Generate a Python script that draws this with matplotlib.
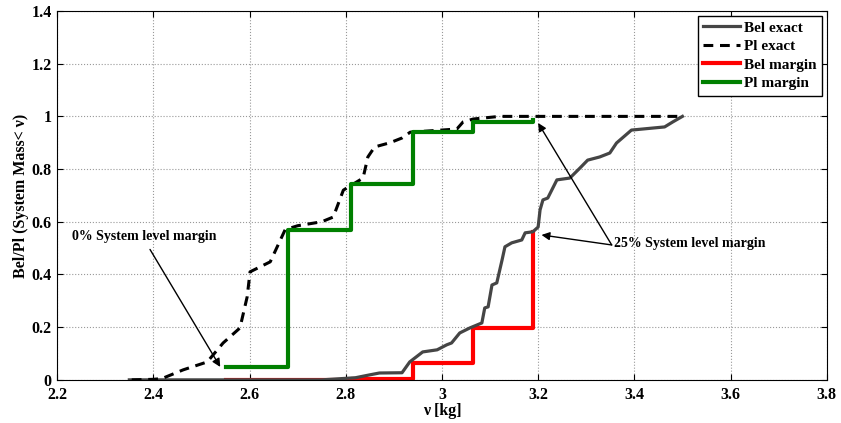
import matplotlib
matplotlib.use('Agg')
import matplotlib.pyplot as plt

# Bel exact (solid gray)
bel_x = [2.35, 2.75, 2.82, 2.85, 2.87, 2.917, 2.933, 2.96, 2.99, 3.01, 3.02, 3.037,
         3.058, 3.083, 3.089, 3.096, 3.104, 3.114, 3.125, 3.131, 3.145, 3.166, 3.173,
         3.189, 3.2, 3.204, 3.21, 3.22, 3.239, 3.266, 3.287, 3.303, 3.328, 3.349,
         3.363, 3.394, 3.463, 3.48, 3.5]
bel_y = [0.0, 0.0, 0.008, 0.019, 0.026, 0.027, 0.068, 0.106, 0.114, 0.133, 0.14, 0.178,
         0.197, 0.216, 0.273, 0.277, 0.36, 0.368, 0.455, 0.505, 0.52, 0.531, 0.558,
         0.562, 0.58, 0.645, 0.683, 0.69, 0.759, 0.766, 0.804, 0.834, 0.846, 0.861,
         0.899, 0.948, 0.96, 0.979, 1.0]

# Pl exact (dashed black)
pl_x = [2.355, 2.40, 2.418, 2.462, 2.512, 2.545, 2.58, 2.595, 2.601, 2.643, 2.674,
        2.70, 2.75, 2.774, 2.795, 2.836, 2.846, 2.86, 2.892, 2.917, 2.934, 3.031,
        3.044, 3.065, 3.12, 3.5]
pl_y = [0.0, 0.002, 0.005, 0.038, 0.068, 0.14, 0.197, 0.315, 0.41, 0.448, 0.57,
        0.585, 0.60, 0.618, 0.72, 0.766, 0.846, 0.884, 0.9, 0.918, 0.94, 0.952,
        0.979, 0.99, 1.0, 1.0]

# margin step curves
margin_x = [2.55, 2.68, 2.81, 2.94, 3.065, 3.19]
bel_margin = [0.0, 0.001, 0.005, 0.065, 0.195, 0.56]
pl_margin = [0.05, 0.57, 0.745, 0.94, 0.98, 0.985]

xticks = [2.2, 2.4, 2.6, 2.8, 3.0, 3.2, 3.4, 3.6, 3.8]
xtick_labels = ['2.2', '2.4', '2.6', '2.8', '3', '3.2', '3.4', '3.6', '3.8']
yticks = [0, 0.2, 0.4, 0.6, 0.8, 1.0, 1.2, 1.4]
ytick_labels = ['0', '0.2', '0.4', '0.6', '0.8', '1', '1.2', '1.4']

plt.rcParams['font.family'] = ['Liberation Serif', 'DejaVu Serif']
plt.rcParams['font.weight'] = 'bold'

fig = plt.figure(figsize=(8.41, 4.23), dpi=100)
ax = fig.add_axes([0.068, 0.102, 0.915, 0.872])

ax.plot(bel_x, bel_y, color='#454545', lw=2.3, label='Bel exact')
ax.plot(pl_x, pl_y, color='black', lw=2.2, ls=(0, (3.2, 2.2)), label='Pl exact')
ax.plot(margin_x, bel_margin, color='red', lw=3, drawstyle='steps-post',
        label='Bel margin', zorder=1.9)
ax.plot(margin_x, pl_margin, color='green', lw=3, drawstyle='steps-post',
        label='Pl margin')

# Annotations
ax.text(2.231, 0.543, '0% System level margin', fontsize=10, fontweight='bold',
        va='center', ha='left')
ax.annotate('', xy=(2.539, 0.049), xytext=(2.393, 0.495),
            arrowprops=dict(arrowstyle='-|>', color='black', lw=1,
                            mutation_scale=12, shrinkA=0, shrinkB=0))
ax.text(3.357, 0.517, '25% System level margin', fontsize=10, fontweight='bold',
        va='center', ha='left')
for tip in [(3.2, 0.975), (3.207, 0.55)]:
    ax.annotate('', xy=tip, xytext=(3.353, 0.512),
                arrowprops=dict(arrowstyle='-|>', color='black', lw=1,
                                mutation_scale=12, shrinkA=0, shrinkB=0))

ax.set_xlim(2.2, 3.8)
ax.set_ylim(0, 1.4)
ax.set_xticks(xticks)
ax.set_xticklabels(xtick_labels)
ax.set_yticks(yticks)
ax.set_yticklabels(ytick_labels)
ax.tick_params(direction='in', top=True, right=True, labelsize=11.5, length=4)
ax.tick_params(axis='x', pad=5)
ax.tick_params(axis='y', pad=4)
ax.grid(True, ls=':', color='#999999', lw=0.8)
ax.set_axisbelow(True)
ax.set_xlabel('ν [kg]', fontsize=11.5, fontweight='bold', labelpad=0)
ax.set_ylabel('Bel/Pl (System Mass< ν)', fontsize=11.5, fontweight='bold', labelpad=2)

leg = ax.legend(loc='upper right', fontsize=11, fancybox=False, framealpha=1,
                edgecolor='black', borderaxespad=0.3, handlelength=2.4,
                labelspacing=0.32, borderpad=0.35, handletextpad=0.3)
leg.get_frame().set_linewidth(1)

fig.savefig('out.png', dpi=100)
